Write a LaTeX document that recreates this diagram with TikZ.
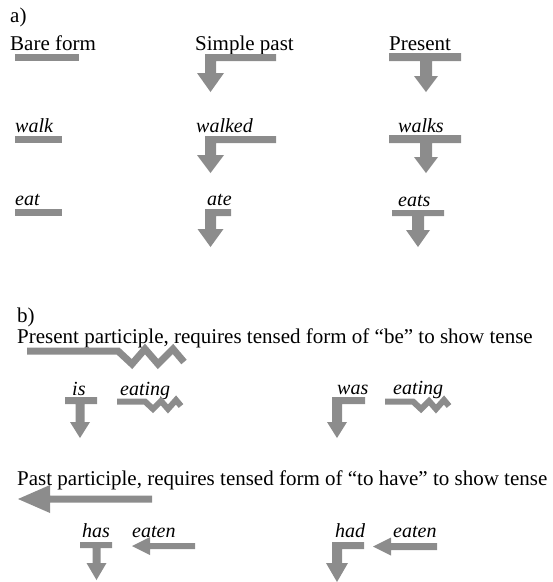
\documentclass[tikz,border=0pt]{standalone}
\usepackage{fontspec}
\setmainfont{Liberation Serif}
\definecolor{ag}{RGB}{140,140,140}
\newcommand\Tarr[9]{\fill[ag] (#1,#3) -- (#2,#3) -- (#2,#4) -- (#5+#6,#4) -- (#5+#6,#8) -- (#5+#7,#8) -- (#5,#9) -- (#5-#7,#8) -- (#5-#6,#8) -- (#5-#6,#4) -- (#1,#4) -- cycle;}
\newcommand\Larr[8]{\fill[ag] (#1,#3) -- (#2,#3) -- (#2,#4) -- (#1+#5,#4) -- (#1+#5,#7) -- (#1+#5/2+#6,#7) -- (#1+#5/2,#8) -- (#1+#5/2-#6,#7) -- (#1,#7) -- cycle;}
\newcommand\Warr[6]{\fill[ag] (#3,#4-#5) -- (#2,#4-#5) -- (#2,#4-#6) -- (#1,#4) -- (#2,#4+#6) -- (#2,#4+#5) -- (#3,#4+#5) -- cycle;}
\begin{document}
\begin{tikzpicture}[x=1pt,y=-1pt,
  lbl/.style={inner sep=0pt,anchor=base west,font=\fontsize{21}{24}\selectfont},
  word/.style={inner sep=0pt,anchor=base west,font=\fontsize{20}{24}\selectfont\itshape},
  zig/.style={draw=ag,line width=7pt,line join=miter},
  zigs/.style={draw=ag,line width=6pt,line join=miter}]
\useasboundingbox (0,0) rectangle (553,582);
% ---------- a) ----------
\node[lbl] (a) at (10,22) {a)};
\node[lbl] (bare) at (10,50) {Bare form};
\node[lbl] (simple) at (195,50) {Simple past};
\node[lbl] (pres) at (389,50) {Present};
\fill[ag] (15,54) rectangle (79,61);
\Larr{205}{276}{54}{61}{11}{13.5}{73}{92}
\Tarr{389}{461}{53}{61}{426}{6}{12}{76}{92}
\node[word] (walk) at (15,132) {walk};
\node[word] (walked) at (196,132) {walked};
\node[word] (walks) at (398,132) {walks};
\fill[ag] (15,136) rectangle (62,143);
\Larr{205}{276}{136}{143}{11}{13.5}{155}{173}
\Tarr{389}{461}{135}{143}{426}{6}{12}{157}{173}
\node[word] (eat) at (15,205) {eat};
\node[word] (ate) at (207,205) {ate};
\node[word] (eats) at (398,206) {eats};
\fill[ag] (15,209) rectangle (62,216);
\Larr{205}{231}{209}{216}{11}{13}{229}{247}
\Tarr{392}{444}{210}{216}{418}{6}{12}{230}{247}
% ---------- b) ----------
\node[lbl] (b) at (17,322) {b)};
\node[lbl] (ppres) at (17,343) {Present participle, requires tensed form of “be” to show tense};
\draw[zig] (27,351) -- (118,351) -- (132,364) -- (145,349) -- (158,364) -- (173,349) -- (184,362);
\node[word] (is) at (72,395) {is};
\node[word] (eating1) at (120,395) {eating};
\Tarr{65}{97}{397}{404}{80}{4.5}{10}{422}{438}
\draw[zigs] (117,401.5) -- (145,401.5) -- (153,409) -- (161,401) -- (168,409) -- (176,400) -- (181,406);
\node[word] (was) at (337,394) {was};
\node[word] (eating2) at (393,394) {eating};
\Larr{332}{365}{397}{404}{10}{10}{422}{438}
\draw[zigs] (385,401.5) -- (413,401.5) -- (421,409) -- (429,401) -- (436,409) -- (444,400) -- (449,406);
\node[lbl] (ppast) at (17,485) {Past participle, requires tensed form of “to have” to show tense};
\Warr{18}{50}{152}{499}{3.5}{14}
\node[word] (has) at (82,537) {has};
\node[word] (eaten1) at (132,537) {eaten};
\Tarr{80}{112}{542}{548}{96.5}{4}{10}{563}{580}
\Warr{132}{150}{195}{546}{3}{9}
\node[word] (had) at (335,537) {had};
\node[word] (eaten2) at (393,537) {eaten};
\Larr{332}{364}{542}{549}{10}{11}{563}{582}
\Warr{373}{391}{437}{546.5}{3.5}{9}
\end{tikzpicture}
\end{document}
